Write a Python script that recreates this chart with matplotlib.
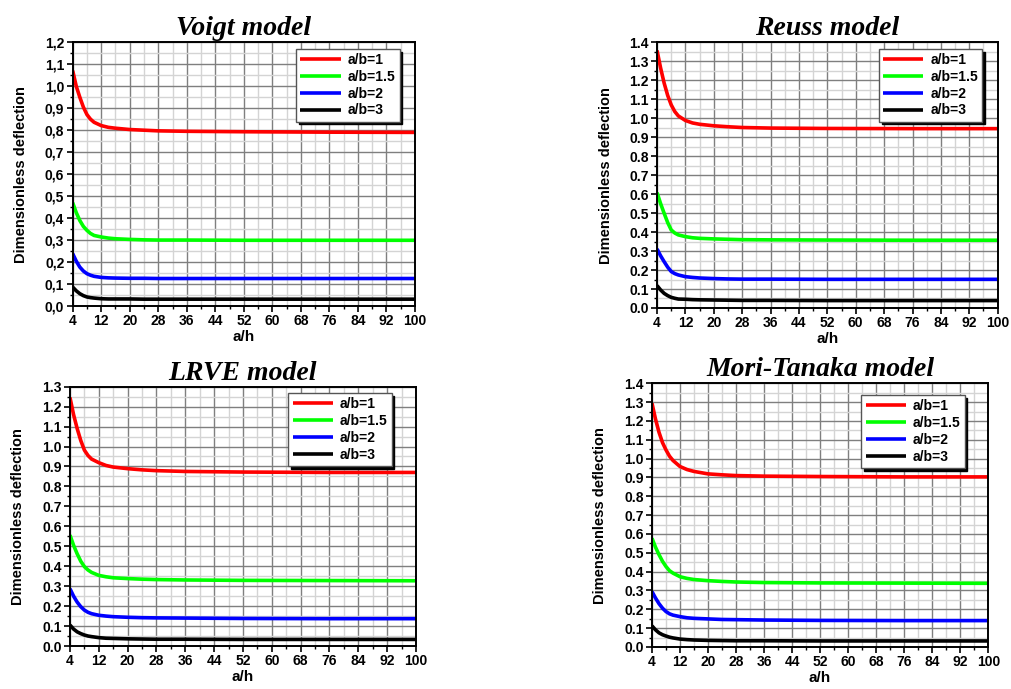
import numpy as np
import matplotlib.pyplot as plt
from matplotlib.ticker import MultipleLocator, FixedLocator

# =============================================
#                    DATOS
# =============================================

ah = [4, 5, 6, 7, 8, 9, 10, 12, 14, 16, 20, 24, 28, 36, 52, 76, 100]
labels = ['a/b=1', 'a/b=1.5', 'a/b=2', 'a/b=3']
colors = ['#ff0000', '#00ff00', '#0000ff', '#000000']

voigt_1 = [1.071, 1.000, 0.950, 0.905, 0.871, 0.850, 0.836, 0.821, 0.813, 0.809, 0.803, 0.800, 0.797, 0.795, 0.793, 0.791, 0.790]
voigt_15 = [0.470, 0.425, 0.389, 0.362, 0.344, 0.330, 0.321, 0.314, 0.309, 0.306, 0.303, 0.301, 0.300, 0.300, 0.299, 0.299, 0.299]
voigt_2 = [0.238, 0.204, 0.177, 0.159, 0.147, 0.140, 0.135, 0.130, 0.128, 0.127, 0.126, 0.126, 0.125, 0.125, 0.125, 0.125, 0.125]
voigt_3 = [0.086, 0.069, 0.056, 0.047, 0.041, 0.038, 0.036, 0.033, 0.032, 0.032, 0.032, 0.031, 0.031, 0.031, 0.031, 0.031, 0.031]

reuss_1 = [1.357, 1.265, 1.185, 1.120, 1.070, 1.035, 1.012, 0.988, 0.975, 0.968, 0.960, 0.955, 0.951, 0.948, 0.946, 0.945, 0.945]
reuss_15 = [0.608, 0.550, 0.499, 0.450, 0.411, 0.395, 0.385, 0.376, 0.370, 0.367, 0.364, 0.362, 0.360, 0.359, 0.358, 0.357, 0.357]
reuss_2 = [0.311, 0.275, 0.244, 0.215, 0.192, 0.181, 0.174, 0.165, 0.161, 0.158, 0.155, 0.153, 0.152, 0.152, 0.151, 0.151, 0.151]
reuss_3 = [0.118, 0.095, 0.077, 0.065, 0.056, 0.051, 0.047, 0.046, 0.044, 0.043, 0.042, 0.041, 0.040, 0.040, 0.039, 0.039, 0.039]

lrve_1 = [1.246, 1.160, 1.090, 1.030, 0.982, 0.955, 0.937, 0.919, 0.905, 0.897, 0.889, 0.883, 0.879, 0.875, 0.872, 0.870, 0.870]
lrve_15 = [0.556, 0.505, 0.462, 0.425, 0.398, 0.381, 0.369, 0.354, 0.347, 0.342, 0.338, 0.335, 0.333, 0.331, 0.329, 0.328, 0.327]
lrve_2 = [0.287, 0.250, 0.220, 0.197, 0.180, 0.169, 0.162, 0.154, 0.150, 0.147, 0.144, 0.142, 0.141, 0.140, 0.138, 0.137, 0.137]
lrve_3 = [0.105, 0.085, 0.071, 0.062, 0.055, 0.050, 0.047, 0.042, 0.039, 0.038, 0.036, 0.035, 0.034, 0.034, 0.033, 0.033, 0.033]

mt_1 = [1.294, 1.210, 1.140, 1.085, 1.046, 1.013, 0.990, 0.958, 0.942, 0.932, 0.919, 0.914, 0.910, 0.907, 0.905, 0.903, 0.903]
mt_15 = [0.577, 0.530, 0.490, 0.455, 0.427, 0.405, 0.392, 0.373, 0.364, 0.358, 0.352, 0.348, 0.345, 0.342, 0.340, 0.339, 0.338]
mt_2 = [0.294, 0.260, 0.230, 0.206, 0.188, 0.176, 0.169, 0.161, 0.155, 0.152, 0.149, 0.146, 0.145, 0.143, 0.141, 0.140, 0.140]
mt_3 = [0.112, 0.091, 0.075, 0.065, 0.058, 0.052, 0.048, 0.042, 0.039, 0.037, 0.035, 0.034, 0.033, 0.033, 0.032, 0.032, 0.032]

x_ticks = [4, 12, 20, 28, 36, 44, 52, 60, 68, 76, 84, 92, 100]
y_ticks_voigt = ['0,0', '0,1', '0,2', '0,3', '0,4', '0,5', '0,6', '0,7', '0,8', '0,9', '1,0', '1,1', '1,2']

# Paneles: título, series, ymax, etiquetas y, posición, legend bbox
panels = [
    ('Voigt model', [voigt_1, voigt_15, voigt_2, voigt_3], 1.2, y_ticks_voigt,
     [0.0719, 0.5559, 0.3386, 0.3827], (0.955, 0.975)),
    ('Reuss model', [reuss_1, reuss_15, reuss_2, reuss_3], 1.4, None,
     [0.6499, 0.5530, 0.3369, 0.3856], (0.955, 0.975)),
    ('LRVE model', [lrve_1, lrve_15, lrve_2, lrve_3], 1.3, None,
     [0.0692, 0.0624, 0.3422, 0.3764], (0.93, 0.975)),
    ('Mori-Tanaka model', [mt_1, mt_15, mt_2, mt_3], 1.4, None,
     [0.6449, 0.0610, 0.3326, 0.3827], (0.93, 0.955)),
]

# =============================================
#                   GRÁFICOS
# =============================================

plt.rcParams['font.family'] = 'Liberation Sans'
plt.rcParams['font.weight'] = 'bold'

fig = plt.figure(figsize=(10.11, 6.89), dpi=100)

for title, series, ymax, ylabs, pos, lpos in panels:
    ax = fig.add_axes(pos)
    for y, lab, col in zip(series, labels, colors):
        ax.plot(ah, y, color=col, linewidth=2.6, label=lab, solid_capstyle='butt')

    ax.set_xlim(4, 100)
    ax.set_ylim(0, ymax)
    ax.xaxis.set_major_locator(FixedLocator(x_ticks))
    ax.xaxis.set_minor_locator(MultipleLocator(4))
    ax.yaxis.set_major_locator(MultipleLocator(0.1))
    ax.yaxis.set_minor_locator(MultipleLocator(0.05))
    if ylabs is not None:
        ax.set_yticks(np.arange(len(ylabs)) * 0.1)
        ax.set_yticklabels(ylabs)
    else:
        ax.yaxis.set_major_formatter(plt.FormatStrFormatter('%.1f'))

    ax.grid(which='major', color='#7f7f7f', linewidth=1.0)
    ax.grid(which='minor', color='#d4d4d4', linewidth=1.0)
    ax.set_axisbelow(True)

    ax.tick_params(which='major', direction='out', length=4, width=1.2, labelsize=10, pad=2)
    ax.tick_params(which='minor', direction='out', length=2.5, width=1.0)
    for lbl in ax.get_xticklabels() + ax.get_yticklabels():
        lbl.set_fontweight('bold')
    for sp in ax.spines.values():
        sp.set_linewidth(1.4)

    ax.set_xlabel('a/h', fontsize=11, fontweight='bold', labelpad=1)
    ax.set_ylabel('Dimensionless deflection', fontsize=10.5, fontweight='bold', labelpad=12)
    ax.set_title(title, fontsize=20, fontweight='bold', fontstyle='italic',
                 family='Liberation Serif', pad=5)

    leg = ax.legend(loc='upper right', bbox_to_anchor=lpos, fontsize=10, frameon=True,
                    fancybox=False, edgecolor='#555555', framealpha=1,
                    shadow={'color': 'black', 'alpha': 1}, handlelength=2.9,
                    labelspacing=0.2, borderpad=0.3, handletextpad=0.5, borderaxespad=0)
    leg.get_frame().set_linewidth(1.0)
    for t in leg.get_texts():
        t.set_fontweight('bold')

fig.savefig('out.png', dpi=100)
